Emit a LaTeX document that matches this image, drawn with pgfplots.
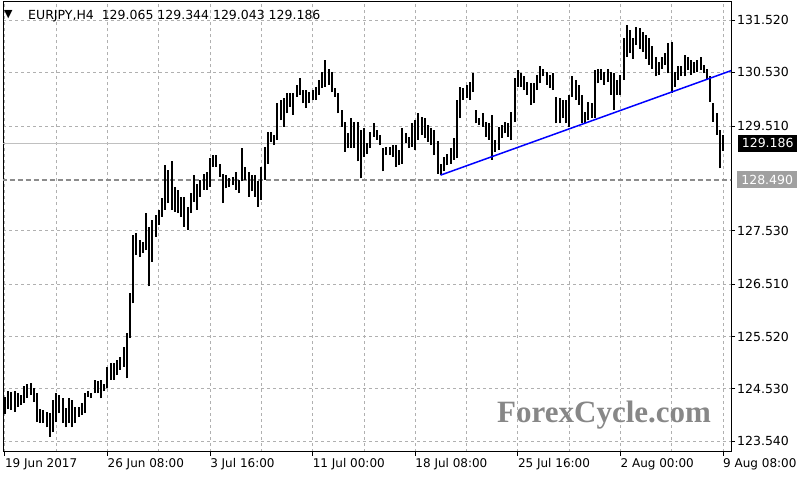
\documentclass[border=0pt]{standalone}
\usepackage{fontspec}
\setmainfont{DejaVu Sans}
\newfontfamily\wmfont{Liberation Serif}
\usepackage{pgfplots}
\pgfplotsset{compat=1.18}
\usepackage{pgfplotstable}
\definecolor{gridc}{RGB}{176,176,176}
\definecolor{priceline}{RGB}{192,192,192}
\definecolor{supline}{RGB}{140,140,140}
\definecolor{trendblue}{RGB}{0,0,255}
\definecolor{boxgray}{RGB}{160,160,160}
\definecolor{wmgray}{RGB}{135,135,135}

\pgfplotstableread{
i lo hi
0 124.05 124.37
1 124.15 124.49
2 124.13 124.47
3 124.09 124.49
4 124.19 124.45
5 124.22 124.41
6 124.26 124.58
7 124.36 124.62
8 124.41 124.64
9 124.28 124.54
10 123.90 124.45
11 123.88 124.15
12 123.88 124.13
13 123.80 124.09
14 123.62 124.07
15 123.71 124.32
16 123.90 124.45
17 124.07 124.41
18 123.88 124.36
19 123.80 124.17
20 123.88 124.36
21 123.80 124.32
22 123.88 124.19
23 124.00 124.19
24 124.03 124.26
25 124.07 124.45
26 124.38 124.48
27 124.35 124.45
28 124.45 124.70
29 124.45 124.67
30 124.35 124.70
31 124.48 124.63
32 124.54 124.95
33 124.70 125.01
34 124.70 125.01
35 124.79 125.08
36 124.89 125.14
37 124.95 125.33
38 124.73 125.58
39 125.49 126.34
40 126.15 127.44
41 127.07 127.48
42 127.03 127.35
43 127.10 127.32
44 127.16 127.86
45 126.47 127.60
46 126.94 127.73
47 127.41 127.82
48 127.63 127.92
49 127.79 128.14
50 127.92 128.77
51 128.05 128.68
52 127.92 128.84
53 127.89 128.36
54 127.86 128.30
55 127.79 128.17
56 127.60 128.17
57 127.54 127.98
58 127.86 128.24
59 128.08 128.58
60 127.92 128.42
61 128.17 128.49
62 128.30 128.61
63 128.30 128.64
64 128.36 128.90
65 128.74 128.96
66 128.74 128.96
67 128.55 128.80
68 128.05 128.61
69 128.33 128.58
70 128.36 128.52
71 128.39 128.55
72 128.30 128.64
73 128.24 128.49
74 128.46 129.09
75 128.49 128.74
76 128.17 128.64
77 128.27 128.58
78 128.17 128.58
79 127.98 128.46
80 128.11 128.74
81 128.49 129.12
82 128.80 129.40
83 129.21 129.40
84 129.15 129.34
85 129.25 129.94
86 129.62 130.00
87 129.50 130.04
88 129.75 130.13
89 129.88 130.13
90 129.72 130.13
91 130.07 130.29
92 130.10 130.42
93 129.94 130.19
94 129.85 130.19
95 129.94 130.16
96 130.00 130.19
97 130.00 130.26
98 130.10 130.38
99 130.23 130.54
100 130.26 130.76
101 130.29 130.60
102 130.15 130.53
103 130.06 130.23
104 129.75 130.13
105 129.50 129.81
106 129.02 129.59
107 129.09 129.37
108 129.09 129.66
109 129.09 129.59
110 128.84 129.59
111 128.52 129.44
112 128.93 129.47
113 128.99 129.18
114 129.09 129.40
115 129.31 129.56
116 129.25 129.44
117 129.15 129.34
118 128.65 129.09
119 128.96 129.12
120 128.96 129.12
121 128.93 129.15
122 128.74 129.15
123 128.77 129.06
124 128.80 129.47
125 129.18 129.37
126 129.09 129.31
127 129.12 129.56
128 129.06 129.62
129 129.25 129.75
130 129.34 129.69
131 129.28 129.66
132 129.21 129.53
133 129.15 129.47
134 128.96 129.44
135 128.61 129.22
136 128.58 128.80
137 128.65 128.93
138 128.77 128.99
139 128.80 129.09
140 128.87 129.28
141 128.90 130.00
142 129.66 130.26
143 130.00 130.23
144 130.04 130.29
145 130.00 130.35
146 130.16 130.51
147 129.56 129.81
148 129.53 129.66
149 129.50 129.75
150 129.31 129.59
151 129.25 129.56
152 128.87 129.72
153 129.02 129.25
154 129.06 129.50
155 129.28 129.53
156 129.37 129.59
157 129.31 129.56
158 129.25 129.78
159 129.59 130.42
160 130.26 130.57
161 130.26 130.51
162 130.19 130.45
163 130.10 130.35
164 129.91 130.32
165 129.94 130.32
166 130.19 130.48
167 130.32 130.64
168 130.45 130.60
169 130.29 130.54
170 130.23 130.48
171 130.19 130.51
172 129.56 130.07
173 129.56 130.04
174 129.66 130.00
175 129.56 130.00
176 129.50 130.10
177 130.07 130.45
178 130.00 130.38
179 129.91 130.29
180 129.56 130.10
181 129.56 129.78
182 129.62 129.97
183 129.66 129.94
184 129.66 130.57
185 130.32 130.60
186 130.38 130.60
187 130.29 130.54
188 130.35 130.60
189 130.10 130.54
190 129.81 130.51
191 130.10 130.38
192 130.10 130.48
193 130.38 131.17
194 130.82 131.43
195 130.89 131.33
196 130.79 131.17
197 131.05 131.39
198 130.98 131.36
199 130.92 131.30
200 130.79 131.24
201 130.67 131.17
202 130.60 131.02
203 130.45 130.82
204 130.48 130.73
205 130.60 130.82
206 130.67 130.89
207 130.51 131.08
208 130.13 131.11
209 130.26 130.54
210 130.38 130.64
211 130.45 130.64
212 130.45 130.86
213 130.57 130.82
214 130.48 130.76
215 130.51 130.73
216 130.54 130.76
217 130.57 130.82
218 130.51 130.67
219 130.38 130.60
220 129.97 130.45
221 129.59 129.94
222 129.34 129.75
223 128.71 129.44
224 129.043 129.344
}\bars

\begin{document}
\begin{tikzpicture}
\begin{axis}[
  at={(3pt,28.5pt)}, anchor=south west,
  scale only axis, width=728pt, height=450pt,
  xmin=-0.59, xmax=226.5, ymin=123.342, ymax=131.871,
  axis line style={black, line width=1pt},
  xtick={0,32,...,224},
  xticklabels={19 Jun 2017, 26 Jun 08:00, 3 Jul 16:00, 11 Jul 00:00, 18 Jul 08:00, 25 Jul 16:00, 2 Aug 00:00, 9 Aug 08:00},
  minor xtick={16,48,...,208},
  ytick={123.54,124.53,125.52,126.51,127.53,129.51,130.53,131.52},
  yticklabels={123.540,124.530,125.520,126.510,127.530,129.510,130.530,131.520},
  ytick pos=right, xtick pos=bottom,
  tick align=outside, major tick length=4pt, minor tick length=0pt,
  tick style={black, line width=0.8pt},
  grid=both,
  grid style={gridc, line width=0.8pt, dash pattern=on 3pt off 3pt},
  minor grid style={gridc, line width=0.8pt, dash pattern=on 3pt off 3pt},
  xticklabel style={anchor=north west, inner sep=0pt, font=\fontsize{12}{14}\selectfont, yshift=-3pt, xshift=0pt},
  yticklabel style={anchor=west, inner sep=0pt, font=\fontsize{12.5}{14}\selectfont, xshift=2pt},
]
% support line and current price line
\addplot[supline, line width=1.4pt, dash pattern=on 5pt off 3pt, forget plot] coordinates {(-1,128.49) (230,128.49)};
\addplot[priceline, line width=1pt, forget plot] coordinates {(-1,129.186) (230,129.186)};
% OHLC bars (high-low)
\addplot[draw=none, mark=none, forget plot,
  error bars/.cd, y dir=plus, y explicit, error mark=none,
  error bar style={draw=black, solid, line width=2pt}]
  table[x=i, y=lo, y error expr=\thisrow{hi}-\thisrow{lo}] {\bars};
% trend line
\addplot[trendblue, line width=1.5pt, forget plot] coordinates {(135.9,128.58) (226.5,130.56)};
\end{axis}
% price boxes
\node[fill=black, text=white, anchor=west, inner sep=0pt, minimum height=17pt, minimum width=59pt,
  font=\fontsize{12.5}{14}\selectfont] at (738pt,336.9pt) {129.186};
\node[fill=boxgray, text=white, anchor=west, inner sep=0pt, minimum height=17pt, minimum width=60pt,
  font=\fontsize{12.5}{14}\selectfont] at (737pt,300.1pt) {128.490};
% header
\node[anchor=base west, inner sep=0pt, font=\fontsize{11}{12}\selectfont] at (4pt,462pt) {▼};
\node[anchor=base west, inner sep=0pt, font=\fontsize{12.5}{14}\selectfont] at (28pt,460pt) {EURJPY,H4\ \ 129.065 129.344 129.043 129.186};
% watermark
\node[anchor=base west, inner sep=0pt, text=wmgray, font=\wmfont\bfseries\fontsize{31}{34}\selectfont] at (497pt,58pt) {ForexCycle.com};
\pgfresetboundingbox
\path[use as bounding box] (0,0) rectangle (800pt,480pt);
\end{tikzpicture}
\end{document}
